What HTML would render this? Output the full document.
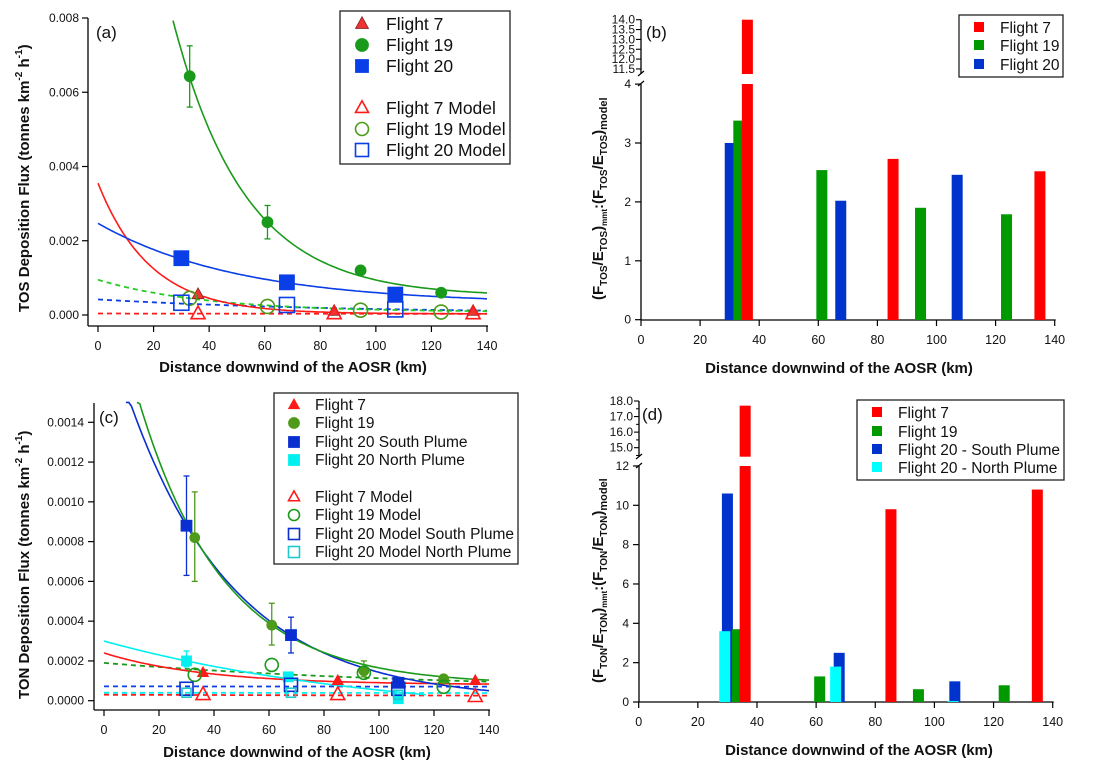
<!DOCTYPE html>
<html><head><meta charset="utf-8"><style>
html,body{margin:0;padding:0;background:#fff;}
svg{display:block;font-family:"Liberation Sans",sans-serif;}
</style></head><body>
<svg id="fig" width="1104" height="769" viewBox="0 0 1104 769" xmlns="http://www.w3.org/2000/svg">
<rect width="1104" height="769" fill="#fff"/>
</svg>
<script>
// ---------- Panel (a) data ----------
const aF7x=[36,85,135], aF7y=[0.00055,0.0001,0.0001];
const aF19x=[33,61,94.5,123.5], aF19y=[0.00643,0.0025,0.0012,0.0006];
const aF19lo=[0.0056,0.00205,null,null], aF19hi=[0.00725,0.00295,null,null];
const aF20x=[30,68,107], aF20y=[0.00153,0.00088,0.00055];
const aM7x=[36,85,135], aM7y=[0.00003,0.00003,0.00003];
const aM19x=[33,61,94.5,123.5], aM19y=[0.00045,0.00023,0.00013,0.00008];
const aM20x=[30,68,107], aM20y=[0.00033,0.00027,0.00015];
// fit params [a,b,c,xstart,xend]
const aFit19=[0.02107,0.0386,0.0005,27,140];
const aFit7=[0.00352,0.0531,0.00003,0,140];
const aFit20=[0.00217,0.0197,0.0003,0,140];
const aDash19=[0.00087,0.026,0.00008,0,140];
const aDash20=[0.00037,0.012,0.00005,0,140];
const aDash7=[0.00001,0.01,0.00003,0,140];
const aYTicks=[0,0.002,0.004,0.006,0.008], aYLabels=["0.000","0.002","0.004","0.006","0.008"];
const xTicks=[0,20,40,60,80,100,120,140];
// ---------- Panel (c) data ----------
const cF7x=[36,85,135], cF7y=[0.00014,0.0001,0.0001];
const cF19x=[33,61,94.5,123.5], cF19y=[0.00082,0.00038,0.00015,0.00011];
const cF19lo=[0.0006,0.00028,0.00012,null], cF19hi=[0.00105,0.00049,0.0002,null];
const cF20Sx=[30,68,107], cF20Sy=[0.00088,0.00033,0.00009];
const cF20Slo=[0.00063,0.00024,null], cF20Shi=[0.00113,0.00042,null];
const cF20Nx=[30,67,107], cF20Ny=[0.0002,0.00012,0.00001];
const cF20Nlo=[0.00017,null,null], cF20Nhi=[0.00025,null,null];
const cM7x=[36,85,135], cM7y=[0.00003,0.00003,0.00002];
const cM19x=[33,61,94.5,123.5], cM19y=[0.00013,0.00018,0.00014,0.00007];
const cM20Sx=[30,68,107], cM20Sy=[0.00006,0.00008,0.00006];
const cM20Nx=[30,68,107], cM20Ny=[0.00004,0.00004,0.00003];
const cFit19=[0.00215,0.0323,0.00008,12,140];
const cFit20S=[0.00192,0.026,0,8,140];
const cFit20N=[0.0004,0.0096,-0.0001,0,117];
const cFit7=[0.00016,0.0272,0.00008,0,140];
const cDash19=[0.00014,0.008,0.00005,0,140];
const cDash20S=[0.00001,0.001,0.000062,0,140];
const cDash20N=[0.00001,0.001,0.00003,0,140];
const cDash7=[0.00001,0.004,0.00002,0,140];
const cYTicks=[0,0.0002,0.0004,0.0006,0.0008,0.001,0.0012,0.0014];
const cYLabels=["0.0000","0.0002","0.0004","0.0006","0.0008","0.0010","0.0012","0.0014"];
// ---------- Panel (b) data ----------
const bF7x=[36,85.3,135], bF7v=[14.0,2.73,2.52];
const bF19x=[33.1,61.2,94.6,123.7], bF19v=[3.38,2.54,1.9,1.79];
const bF20x=[30.2,67.6,107], bF20v=[3.0,2.02,2.46];
const bLowTicks=[0,1,2,3,4], bUpTicks=[11.5,12.0,12.5,13.0,13.5,14.0];
// ---------- Panel (d) data ----------
const dF7x=[36,85.3,134.8], dF7v=[17.7,9.8,10.8];
const dF19x=[33.4,61.2,94.6,123.6], dF19v=[3.7,1.3,0.65,0.85];
const dF20Sx=[30,67.8,106.9], dF20Sv=[10.6,2.5,1.05];
const dF20Nx=[29.1,66.6,106.3], dF20Nv=[3.6,1.8,0.05];
const dLowTicks=[0,2,4,6,8,10,12], dUpTicks=[15,16,17,18];

const NS="http://www.w3.org/2000/svg";
const svg=document.getElementById('fig');
function mk(tag,attrs,name,parent){
  const el=document.createElementNS(NS,tag);
  for(const k in attrs) el.setAttribute(k,attrs[k]);
  
  
  (parent||svg).appendChild(el);
  return el;
}
function txt(x,y,s,size,name,opts){
  opts=opts||{};
  const t=mk('text',{x:x,y:y,'font-size':size,'text-anchor':opts.anchor||'start',fill:'#111','font-weight':opts.bold?'bold':'normal'},name);
  if(opts.rot) t.setAttribute('transform','rotate(-90 '+x+' '+y+')');
  t.textContent=s; return t;
}
const RED='#ff1a1a', GRN='#1a9a1a', GRN2='#4e9a1a', BLU='#0a3ee6', BLU2='#0a2fd0', CYN='#00f0f0';

function marker(type,cx,cy,s,fill,stroke,name){
  if(type==='tri'){
    const h=s*0.9;
    mk('polygon',{points:`${cx},${cy-h*0.62} ${cx-s/2},${cy+h*0.38} ${cx+s/2},${cy+h*0.38}`,fill:fill,stroke:stroke,'stroke-width':fill==='none'?1.6:0.8},name);
  } else if(type==='circ'){
    mk('circle',{cx:cx,cy:cy,r:s/2,fill:fill,stroke:stroke,'stroke-width':fill==='none'?1.6:0.8},name);
  } else {
    mk('rect',{x:cx-s/2,y:cy-s/2,width:s,height:s,fill:fill,stroke:stroke,'stroke-width':fill==='none'?1.6:0.8},name);
  }
}
function series(xs,ys,X,Y,type,s,fill,stroke,name){
  for(let i=0;i<xs.length;i++) marker(type,X(xs[i]),Y(ys[i]),s,fill,stroke,name+'-point');
}
function errbars(xs,lo,hi,X,Y,color,name){
  for(let i=0;i<xs.length;i++){ if(lo[i]==null) continue;
    const x=X(xs[i]);
    mk('line',{x1:x,x2:x,y1:Y(lo[i]),y2:Y(hi[i]),stroke:color,'stroke-width':1.3},name+'-error-bar');
    mk('line',{x1:x-3,x2:x+3,y1:Y(lo[i]),y2:Y(lo[i]),stroke:color,'stroke-width':1.3},name+'-error-cap');
    mk('line',{x1:x-3,x2:x+3,y1:Y(hi[i]),y2:Y(hi[i]),stroke:color,'stroke-width':1.3},name+'-error-cap');
  }
}
function fit(p,X,Y,color,dash,name,ymax){
  let d='';
  for(let v=p[3];v<=p[4]+0.001;v+=1){
    const y=p[0]*Math.exp(-p[1]*v)+p[2];
    d+=(d?'L':'M')+X(v).toFixed(1)+','+Y(Math.min(y,ymax)).toFixed(1);
  }
  mk('path',{d:d,fill:'none',stroke:color,'stroke-width':dash?1.8:1.6,'stroke-dasharray':dash?'5,4':'none'},name);
}
function xAxis(X,y0,x0,x1,name){
  mk('line',{x1:x0,x2:x1,y1:y0,y2:y0,stroke:'#000','stroke-width':1.3},name+'-line');
  xTicks.forEach(v=>{
    mk('line',{x1:X(v),x2:X(v),y1:y0,y2:y0+6,stroke:'#000','stroke-width':1.2},name+'-tick');
    txt(X(v),y0+24,String(v),12.5,name+'-tick-label',{anchor:'middle'});
  });
}

// ================= Panel (a) =================
const XA=v=>98+v*(389/140), YA=v=>315-v*(297/0.008);
mk('line',{x1:88,x2:88,y1:18,y2:326,stroke:'#000','stroke-width':1.3},'a-y-axis-line');
aYTicks.forEach((v,i)=>{
  mk('line',{x1:82,x2:88,y1:YA(v),y2:YA(v),stroke:'#000','stroke-width':1.2},'a-y-tick');
  txt(79,YA(v)+4,aYLabels[i],12,'a-y-tick-label',{anchor:'end'});
});
xAxis(XA,326,88,488,'a-x-axis');
txt(293,372,'Distance downwind of the AOSR (km)',15,'a-x-axis-title',{anchor:'middle',bold:true});
(function(){const t=txt(29,312,'',15,'a-y-axis-title',{rot:true,bold:true});
t.innerHTML='TOS Deposition Flux (tonnes km<tspan font-size="10" dy="-7">-2</tspan><tspan dy="7"> h</tspan><tspan font-size="10" dy="-7">-1</tspan><tspan dy="7">)</tspan>';})();
txt(96,38,'(a)',17,'a-panel-label');
fit(aDash7,XA,YA,RED,true,'a-flight7-model-fit',0.008);
fit(aDash20,XA,YA,BLU,true,'a-flight20-model-fit',0.008);
fit(aDash19,XA,YA,'#22cc22',true,'a-flight19-model-fit',0.008);
fit(aFit7,XA,YA,RED,false,'a-flight7-fit',0.008);
fit(aFit20,XA,YA,BLU,false,'a-flight20-fit',0.008);
fit(aFit19,XA,YA,GRN,false,'a-flight19-fit',0.008);
errbars(aF19x,aF19lo,aF19hi,XA,YA,GRN,'a-flight19');
series(aF20x,aF20y,XA,YA,'sq',15,BLU,BLU,'a-flight20');
series(aF19x,aF19y,XA,YA,'circ',11,GRN,GRN,'a-flight19');
series(aF7x,aF7y,XA,YA,'tri',12,'#ee3333','#882222','a-flight7');
series(aM7x,aM7y,XA,YA,'tri',14,'none',RED,'a-flight7-model');
series(aM19x,aM19y,XA,YA,'circ',14,'none',GRN2,'a-flight19-model');
series(aM20x,aM20y,XA,YA,'sq',15,'none',BLU,'a-flight20-model');
mk('rect',{x:340,y:11,width:170,height:153,fill:'#fff',stroke:'#222','stroke-width':1.3},'a-legend-box');
[['tri','#ee3333','#882222','Flight 7',24],['circ',GRN,GRN,'Flight 19',45],['sq',BLU,BLU,'Flight 20',66],
 ['tri','none',RED,'Flight 7 Model',108],['circ','none',GRN2,'Flight 19 Model',129],['sq','none',BLU,'Flight 20 Model',150]].forEach(e=>{
  marker(e[0],362,e[4],13,e[1],e[2],'a-legend-marker');
  txt(386,e[4]+6,e[3],17.5,'a-legend-entry');
});

// ================= Panel (c) =================
const XC=v=>104+v*(385/140), YC=v=>700.7-v*(278.4/0.0014);
mk('line',{x1:94,x2:94,y1:403,y2:710,stroke:'#000','stroke-width':1.3},'c-y-axis-line');
cYTicks.forEach((v,i)=>{
  mk('line',{x1:88,x2:94,y1:YC(v),y2:YC(v),stroke:'#000','stroke-width':1.2},'c-y-tick');
  txt(84,YC(v)+4,cYLabels[i],12,'c-y-tick-label',{anchor:'end'});
});
xAxis(XC,710,94,490,'c-x-axis');
txt(297,757,'Distance downwind of the AOSR (km)',15,'c-x-axis-title',{anchor:'middle',bold:true});
(function(){const t=txt(29,699,'',15,'c-y-axis-title',{rot:true,bold:true});
t.innerHTML='TON Deposition Flux (tonnes km<tspan font-size="10" dy="-7">-2</tspan><tspan dy="7"> h</tspan><tspan font-size="10" dy="-7">-1</tspan><tspan dy="7">)</tspan>';})();
txt(99,423,'(c)',17,'c-panel-label');
fit(cDash7,XC,YC,RED,true,'c-flight7-model-fit',0.0015);
fit(cDash20N,XC,YC,CYN,true,'c-flight20-north-model-fit',0.0015);
fit(cDash20S,XC,YC,BLU,true,'c-flight20-south-model-fit',0.0015);
fit(cDash19,XC,YC,GRN,true,'c-flight19-model-fit',0.0015);
fit(cFit7,XC,YC,RED,false,'c-flight7-fit',0.0015);
fit(cFit20N,XC,YC,CYN,false,'c-flight20-north-fit',0.0015);
fit(cFit20S,XC,YC,BLU2,false,'c-flight20-south-fit',0.0015);
fit(cFit19,XC,YC,GRN,false,'c-flight19-fit',0.0015);
errbars(cF20Sx,cF20Slo,cF20Shi,XC,YC,BLU2,'c-flight20-south');
errbars(cF19x,cF19lo,cF19hi,XC,YC,GRN2,'c-flight19');
errbars(cF20Nx,cF20Nlo,cF20Nhi,XC,YC,CYN,'c-flight20-north');
series(cF20Sx,cF20Sy,XC,YC,'sq',11,BLU2,BLU2,'c-flight20-south');
series(cF20Nx,cF20Ny,XC,YC,'sq',10,CYN,CYN,'c-flight20-north');
series(cF19x,cF19y,XC,YC,'circ',10,GRN2,GRN2,'c-flight19');
series(cF7x,cF7y,XC,YC,'tri',11,RED,RED,'c-flight7');
series(cM7x,cM7y,XC,YC,'tri',14,'none',RED,'c-flight7-model');
series(cM19x,cM19y,XC,YC,'circ',13,'none',GRN,'c-flight19-model');
series(cM20Sx,cM20Sy,XC,YC,'sq',13,'none',BLU2,'c-flight20-south-model');
series(cM20Nx,cM20Ny,XC,YC,'sq',9,'none','#20c8d0','c-flight20-north-model');
mk('rect',{x:274,y:393,width:244,height:171,fill:'#fff',stroke:'#222','stroke-width':1.3},'c-legend-box');
[['tri',RED,RED,'Flight 7',405],['circ',GRN2,GRN2,'Flight 19',423],['sq',BLU2,BLU2,'Flight 20 South Plume',442],['sq',CYN,CYN,'Flight 20 North Plume',460],
 ['tri','none',RED,'Flight 7 Model',497],['circ','none',GRN,'Flight 19 Model',515],['sq','none',BLU2,'Flight 20 Model South Plume',534],['sq','none','#20c8d0','Flight 20 Model North Plume',552]].forEach(e=>{
  marker(e[0],294,e[4],11,e[1],e[2],'c-legend-marker');
  txt(315,e[4]+5,e[3],15.5,'c-legend-entry');
});

// ================= Bar panels =================
const BW=11;
function barPanel(p){
  const X=p.X;
  mk('line',{x1:p.x0,x2:p.x0,y1:p.lowTop,y2:p.base,stroke:'#000','stroke-width':1.3},p.n+'-y-axis-lower');
  mk('line',{x1:p.x0,x2:p.x0,y1:p.upTop,y2:p.upBot,stroke:'#000','stroke-width':1.3},p.n+'-y-axis-upper');
  mk('path',{d:`M${p.x0-3},${p.upBot+2} L${p.x0+3},${p.upBot-3} M${p.x0-3},${p.lowTop+2} L${p.x0+3},${p.lowTop-3}`,stroke:'#000','stroke-width':1.2,fill:'none'},p.n+'-axis-break');
  p.lowTicks.forEach(v=>{
    mk('line',{x1:p.x0-6,x2:p.x0,y1:p.YL(v),y2:p.YL(v),stroke:'#000','stroke-width':1.2},p.n+'-y-tick');
    txt(p.x0-10,p.YL(v)+4,String(v),12,p.n+'-y-tick-label',{anchor:'end'});
  });
  p.upTicks.forEach(v=>{
    mk('line',{x1:p.x0-5,x2:p.x0,y1:p.YU(v),y2:p.YU(v),stroke:'#000','stroke-width':1.1},p.n+'-y-tick-upper');
    txt(p.x0-6,p.YU(v)+4,v.toFixed(1),p.upFont,p.n+'-y-tick-label-upper',{anchor:'end'});
  });
  (p.minor||[]).forEach(v=>{
    mk('line',{x1:p.x0-3,x2:p.x0,y1:p.YU(v),y2:p.YU(v),stroke:'#000','stroke-width':1},p.n+'-y-minor-tick');
  });
  xAxis(X,p.base,p.x0,X(140)+1,p.n+'-x-axis');
  p.series.forEach(s=>{
    for(let i=0;i<s.x.length;i++){
      const v=s.v[i], cx=X(s.x[i]);
      if(v>p.lowMax){
        mk('rect',{x:cx-BW/2,y:p.lowTop,width:BW,height:p.base-p.lowTop,fill:s.c},s.name+'-bar');
        mk('rect',{x:cx-BW/2,y:p.YU(v),width:BW,height:p.upBarBot-p.YU(v),fill:s.c},s.name+'-bar-upper');
      } else {
        mk('rect',{x:cx-BW/2,y:p.YL(v),width:BW,height:p.base-p.YL(v),fill:s.c},s.name+'-bar');
      }
    }
  });
}
// (b)
const XB=v=>641+v*(413.7/140);
barPanel({n:'b',X:XB,x0:641,base:320,lowTop:84,upTop:19.7,upBot:74,upBarBot:74,lowMax:4,upFont:12,
  YL:v=>319.7-v*58.9,YU:v=>19.7+(14-v)*19.7,lowTicks:bLowTicks,upTicks:bUpTicks,
  series:[{x:bF20x,v:bF20v,c:'#0033cc',name:'b-flight20'},{x:bF19x,v:bF19v,c:'#009900',name:'b-flight19'},{x:bF7x,v:bF7v,c:'#ff0000',name:'b-flight7'}]});
txt(839,373,'Distance downwind of the AOSR (km)',15,'b-x-axis-title',{anchor:'middle',bold:true});
(function(){const t=txt(603,300,'',15,'b-y-axis-title',{rot:true,bold:true});
t.innerHTML='(F<tspan font-size="10" dy="4">TOS</tspan><tspan dy="-4">/E</tspan><tspan font-size="10" dy="4">TOS</tspan><tspan dy="-4">)</tspan><tspan font-size="8" dy="4">mmt</tspan><tspan dy="-4">:(F</tspan><tspan font-size="10" dy="4">TOS</tspan><tspan dy="-4">/E</tspan><tspan font-size="10" dy="4">TOS</tspan><tspan dy="-4">)</tspan><tspan font-size="11" dy="4">model</tspan>';})();
txt(646,38,'(b)',17,'b-panel-label');
mk('rect',{x:959,y:15,width:104,height:62,fill:'#fff',stroke:'#222','stroke-width':1.3},'b-legend-box');
[['#ff0000','Flight 7',27],['#009900','Flight 19',45],['#0033cc','Flight 20',64]].forEach(e=>{
  mk('rect',{x:974,y:e[2]-5,width:10,height:10,fill:e[0]},'b-legend-marker');
  txt(1000,e[2]+6,e[1],15.5,'b-legend-entry');
});
// (d)
const XD=v=>638.7+v*(414/140);
barPanel({n:'d',X:XD,x0:639,base:702,lowTop:466,upTop:401,upBot:457,upBarBot:456.7,lowMax:12,upFont:12,
  YL:v=>702-v*19.67,YU:v=>401+(18-v)*15.56,lowTicks:dLowTicks,upTicks:dUpTicks,minor:[15.5,16.5,17.5,14.5],
  series:[{x:dF20Sx,v:dF20Sv,c:'#0033cc',name:'d-flight20-south'},{x:dF20Nx,v:dF20Nv,c:'#00ffff',name:'d-flight20-north'},{x:dF19x,v:dF19v,c:'#009900',name:'d-flight19'},{x:dF7x,v:dF7v,c:'#ff0000',name:'d-flight7'}]});
txt(859,755,'Distance downwind of the AOSR (km)',15,'d-x-axis-title',{anchor:'middle',bold:true});
(function(){const t=txt(603,683,'',15,'d-y-axis-title',{rot:true,bold:true});
t.innerHTML='(F<tspan font-size="10" dy="4">TON</tspan><tspan dy="-4">/E</tspan><tspan font-size="10" dy="4">TON</tspan><tspan dy="-4">)</tspan><tspan font-size="8" dy="4">mmt</tspan><tspan dy="-4">:(F</tspan><tspan font-size="10" dy="4">TON</tspan><tspan dy="-4">/E</tspan><tspan font-size="10" dy="4">TON</tspan><tspan dy="-4">)</tspan><tspan font-size="11" dy="4">model</tspan>';})();
txt(642,420,'(d)',17,'d-panel-label');
mk('rect',{x:857,y:400,width:207,height:80,fill:'#fff',stroke:'#222','stroke-width':1.3},'d-legend-box');
[['#ff0000','Flight 7',412],['#009900','Flight 19',431],['#0033cc','Flight 20 - South Plume',449],['#00ffff','Flight 20 - North Plume',467]].forEach(e=>{
  mk('rect',{x:872,y:e[2]-5,width:10,height:10,fill:e[0]},'d-legend-marker');
  txt(898,e[2]+6,e[1],15.5,'d-legend-entry');
});
</script>
</body></html>
